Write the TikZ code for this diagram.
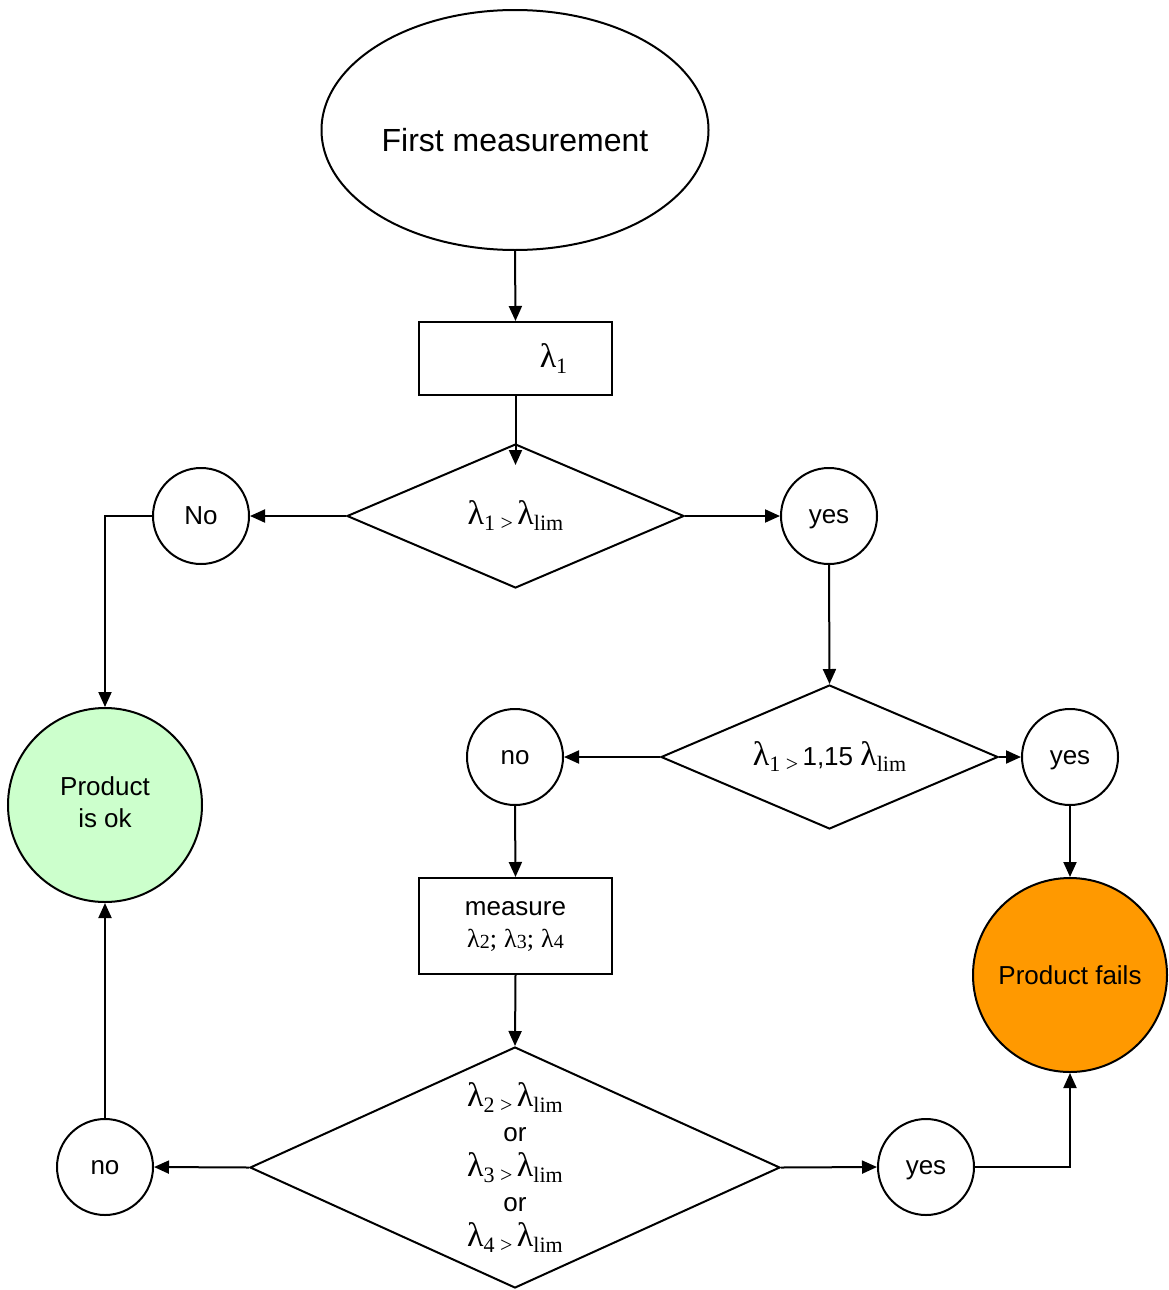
\documentclass[tikz,border=0pt]{standalone}
\usepackage{fontspec}
\setmainfont{Liberation Sans}
\newfontfamily\tms{Liberation Serif}
\usetikzlibrary{shapes.geometric,arrows.meta}
\newcommand\lamsub[1]{{\tms\fontsize{17}{18}\selectfont λ\raisebox{-3pt}{\fontsize{11}{12}\selectfont #1}}}
\newcommand\lamsml[1]{{\tms\fontsize{13}{16}\selectfont λ\raisebox{-0.5pt}{\fontsize{10}{11}\selectfont #1}}}
\definecolor{okgreen}{HTML}{CCFFCC}
\definecolor{failorange}{HTML}{FF9900}
\begin{document}
\begin{tikzpicture}[x=0.5pt,y=-0.5pt,line width=1pt,
  every node/.style={draw,line width=1pt,inner sep=0pt,align=center,font=\fontsize{13}{16}\selectfont},
  smallc/.style={circle,minimum size=48pt,text depth=0pt},
  bigc/.style={circle,minimum size=97pt},
  boxnode/.style={rectangle,minimum width=96.5pt},
  dia/.style={diamond},
  arr/.style={-{Triangle[length=7.5pt,width=6.5pt]}}]
\useasboundingbox (0,0) rectangle (1168,1290);
% nodes
\node[ellipse,minimum width=193.5pt,minimum height=120pt,font=\fontsize{16}{19}\selectfont] (start) at (515,130) {\smash{\raisebox{-10.5pt}{First measurement}}};
\node[boxnode,minimum height=36.5pt] (r1) at (515.5,358.5) {\hspace*{38pt}\lamsub{1}};
\node[dia,shape aspect=2.34,minimum width=168.5pt,minimum height=72pt] (d1) at (515.5,516) {\lamsub{1 >}\,\lamsub{lim}};
\node[smallc] (no1) at (201,516) {No};
\node[smallc] (yes1) at (829,516) {yes};
\node[bigc,fill=okgreen] (ok) at (105,805) {\smash{\raisebox{-3pt}{\begin{tabular}{@{}c@{}}Product\\is ok\end{tabular}}}};
\node[dia,shape aspect=2.34,minimum width=168.5pt,minimum height=72pt] (d2) at (829.5,757) {\lamsub{1 >}\,1,15 \lamsub{lim}};
\node[smallc] (no2) at (515,757) {no};
\node[smallc] (yes2) at (1070,757) {yes};
\node[bigc,fill=failorange] (fail) at (1070,975) {Product fails};
\node[boxnode,minimum height=48pt] (r2) at (515.5,926) {measure\\[0pt]\lamsml{2}{\tms;} \lamsml{3}{\tms;} \lamsml{4}};
\node[dia,shape aspect=2.2,minimum width=265pt,minimum height=120.5pt,font=\fontsize{13}{17.5}\selectfont] (d3) at (515,1167.5) {\lamsub{2 >}\,\lamsub{lim}\\or\\\lamsub{3 >}\,\lamsub{lim}\\or\\\lamsub{4 >}\,\lamsub{lim}};
\node[smallc] (no3) at (105,1167) {no};
\node[smallc] (yes3) at (926,1167) {yes};
% connectors
\draw[arr] (start.south) -- (r1.north);
\draw[arr] (r1.south) -- ([yshift=-11pt]d1.north);
\draw[arr] (d1.west) -- (no1.east);
\draw[arr] (d1.east) -- (yes1.west);
\draw[arr] (no1.west) -| (ok.north);
\draw[arr] (yes1.south) -- (d2.north);
\draw[arr] (d2.west) -- (no2.east);
\draw[arr] (d2.east) -- (yes2.west);
\draw[arr] (yes2.south) -- (fail.north);
\draw[arr] (no2.south) -- (r2.north);
\draw[arr] (r2.south) -- (d3.north);
\draw[arr] (d3.west) -- (no3.east);
\draw[arr] (d3.east) -- (yes3.west);
\draw[arr] (yes3.east) -| (fail.south);
\draw[arr] (no3.north) -- (ok.south);
\end{tikzpicture}
\end{document}
